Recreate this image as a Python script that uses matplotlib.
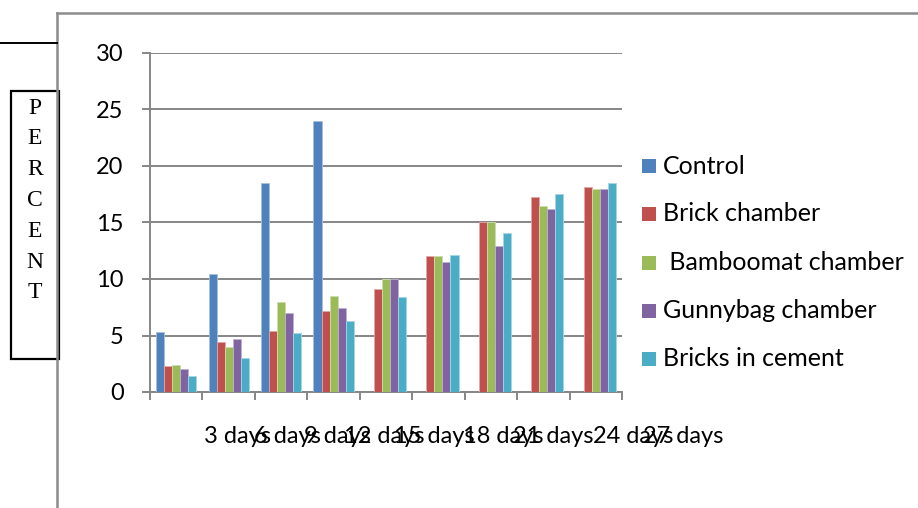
import matplotlib
matplotlib.use("Agg")
import matplotlib.pyplot as plt
import numpy as np
from matplotlib.patches import Rectangle
from matplotlib.lines import Line2D

# ---------------- data ----------------
categories = ["3 days", "6 days", "9 days", "12 days", "15 days",
              "18 days", "21 days", "24 days", "27 days"]
series_names = ["Control", "Brick chamber", " Bamboomat chamber",
                "Gunnybag chamber", "Bricks in cement"]
control = [5.3, 10.4, 18.5, 24.0, 0, 0, 0, 0, 0]
brick_chamber = [2.3, 4.4, 5.4, 7.2, 9.1, 12.0, 15.0, 17.3, 18.1]
bamboomat_chamber = [2.4, 4.0, 8.0, 8.5, 10.0, 12.0, 15.0, 16.5, 18.0]
gunnybag_chamber = [2.0, 4.7, 7.0, 7.4, 10.0, 11.5, 12.9, 16.2, 18.0]
bricks_in_cement = [1.4, 3.0, 5.2, 6.3, 8.4, 12.1, 14.1, 17.5, 18.5]
y_ticks = [0, 5, 10, 15, 20, 25, 30]

# ---------------- style ----------------
colors = ["#4F81BD", "#C0504D", "#9BBB59", "#8064A2", "#4BACC6"]
edge_colors = ["#A7C0DE", "#DFA7A6", "#CDDDAC", "#BFB1D0", "#A5D5E2"]
grid_col = "#868686"
FONT = "Lato"

W, H = 918, 508
fig = plt.figure(figsize=(W / 100, H / 100), dpi=100)
fig.patch.set_facecolor("white")

def fx(px):
    return px / W

def fy(py):
    return 1 - py / H

# plot area
ax_l, ax_r, ax_t, ax_b = 150, 622, 53, 392
ax = fig.add_axes([fx(ax_l), fy(ax_b), fx(ax_r - ax_l), (ax_b - ax_t) / H])
ax.set_xlim(0, len(categories))
ax.set_ylim(0, 30)

series = [control, brick_chamber, bamboomat_chamber, gunnybag_chamber, bricks_in_cement]
n = len(series)
bar_w = 0.153
x0 = np.arange(len(categories)) + 0.5
for i, (vals, c, ec, name) in enumerate(zip(series, colors, edge_colors, series_names)):
    xs = x0 + (i - (n - 1) / 2) * bar_w
    v = np.array(vals, dtype=float)
    mask = v > 0
    ax.bar(xs[mask], v[mask], width=bar_w, color=c, edgecolor=ec,
           linewidth=0.6, zorder=3, label=name)

ax.set_yticks(y_ticks)
ax.set_yticklabels([str(t) for t in y_ticks], fontfamily=FONT, fontsize=17)
ax.yaxis.grid(True, color=grid_col, linewidth=1.4, zorder=1)
ax.set_xticks(np.arange(len(categories) + 1))
ax.set_xticklabels([])
ax.tick_params(axis="y", direction="out", length=6, width=1.4, color=grid_col,
               pad=13, labelcolor="black")
ax.tick_params(axis="x", direction="out", length=6, width=1.4, color=grid_col)
for s in ["top", "right"]:
    ax.spines[s].set_visible(False)
ax.spines["left"].set_color(grid_col)
ax.spines["left"].set_linewidth(1.4)
ax.spines["bottom"].set_color(grid_col)
ax.spines["bottom"].set_linewidth(1.4)
ax.set_facecolor("none")

# overlapping category labels (as in the reference)
label_x = [1.03, 1.98, 2.94, 3.70, 4.65, 5.97, 6.92, 8.45, 9.40]
for lx, lab in zip(label_x, categories):
    ax.text(lx, -3.9, lab, ha="left", va="center", fontfamily=FONT,
            fontsize=17, clip_on=False)

# chart border and extra lines
fig.add_artist(Line2D([fx(57), fx(57)], [fy(13), fy(H + 5)], color="#8C8C8C", lw=1.8))
fig.add_artist(Line2D([fx(57), fx(W + 5)], [fy(13), fy(13)], color="#8C8C8C", lw=1.8))
fig.add_artist(Line2D([fx(0), fx(57)], [fy(43), fy(43)], color="black", lw=1.4))

# PERCENT box
fig.add_artist(Rectangle((fx(11), fy(359)), fx(48), (359 - 91) / H, fill=False,
                         edgecolor="black", lw=1.6, transform=fig.transFigure))
letters = list("PERCENT")
letter_y = [108 + k * 30.8 for k in range(7)]
for ly, ch in zip(letter_y, letters):
    fig.text(fx(35), fy(ly), ch, ha="center", va="center",
             fontfamily="Liberation Serif", fontsize=17)

# legend
leg_y = [166, 214, 263, 311, 359]
for yy, c, name in zip(leg_y, colors, series_names):
    fig.add_artist(Rectangle((fx(642), fy(yy + 7)), fx(14), 14 / H,
                             facecolor=c, edgecolor="none", transform=fig.transFigure))
    fig.text(fx(663), fy(yy), name, ha="left", va="center",
             fontfamily=FONT, fontsize=18)

fig.savefig("out.png", dpi=100)
